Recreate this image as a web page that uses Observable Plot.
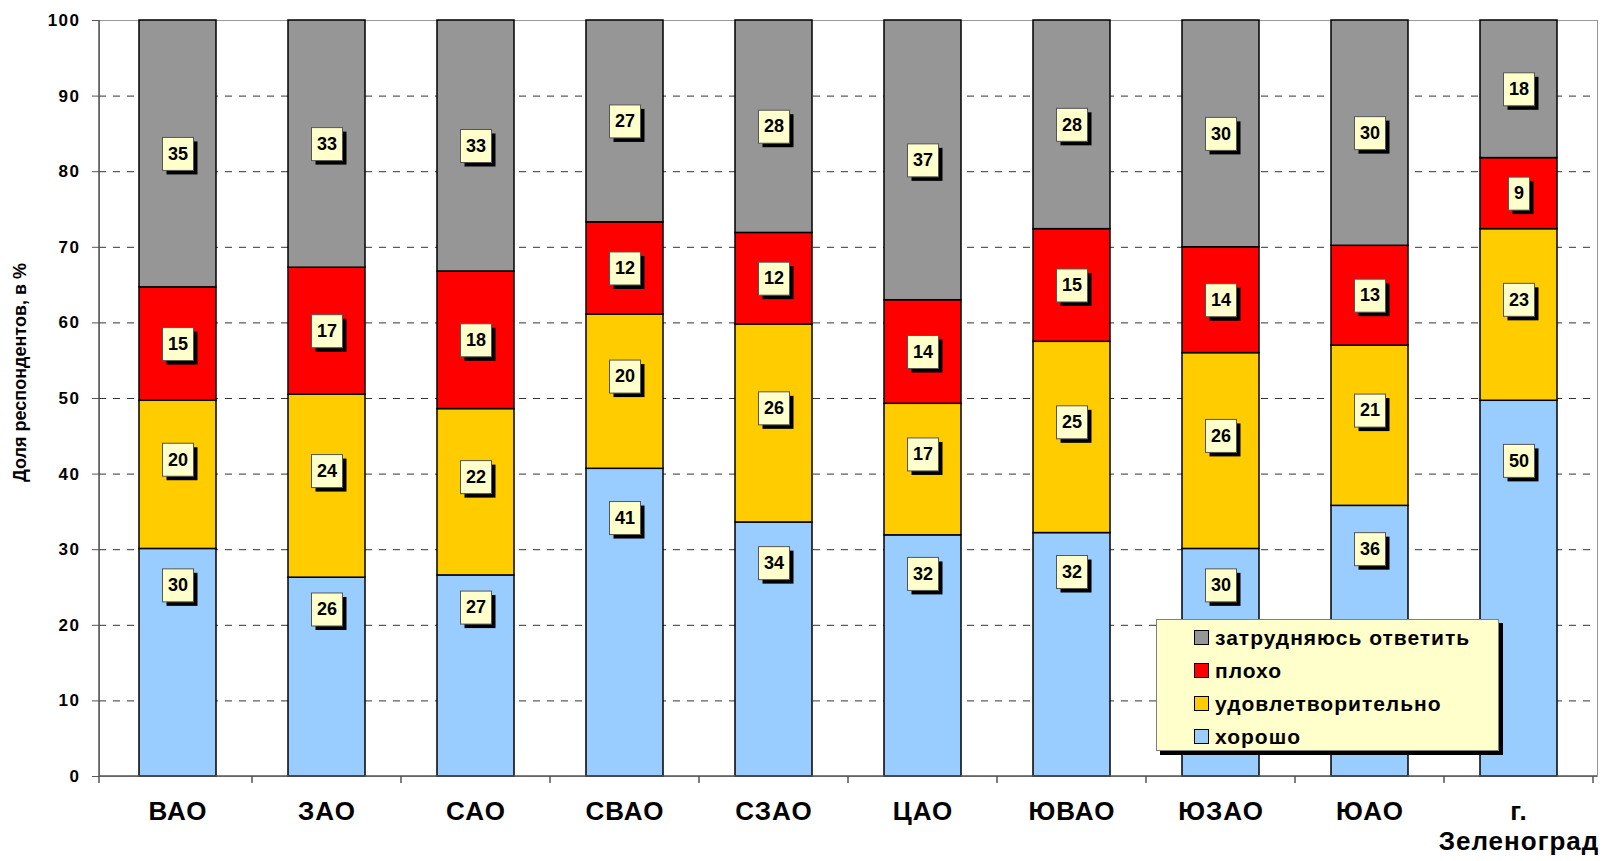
<!DOCTYPE html>
<html><head><meta charset="utf-8">
<script src="https://cdn.jsdelivr.net/npm/d3@7"></script>
<script src="https://cdn.jsdelivr.net/npm/@observablehq/plot@0.6"></script>
<style>
body{margin:0;background:#fff;font-family:"Liberation Sans",Arial,sans-serif;}
#wrap{position:relative;width:1607px;height:861px;overflow:hidden;}
#legend{position:absolute;left:1156px;top:619px;width:343px;height:132px;background:#FFFFCC;border:1px solid #808080;box-shadow:4px 4px 0 #000;box-sizing:border-box;padding-top:1px;}
.item{display:flex;align-items:center;height:33px;padding-left:37px;font-weight:bold;font-size:21px;letter-spacing:1px;color:#000;}
.sw{width:13px;height:13px;border:1.5px solid #000;margin-right:6px;flex:none;}
[aria-label="x-axis tick label"] text{letter-spacing:1px;}
[aria-label="y-axis tick label"] text{letter-spacing:1.5px;}
</style>
</head><body>
<div id="wrap"><div id="chart"></div><div id="legend"></div></div>
<script>
const districts = ["ВАО","ЗАО","САО","СВАО","СЗАО","ЦАО","ЮВАО","ЮЗАО","ЮАО","г.\nЗеленоград"];
const series = ["хорошо","удовлетворительно","плохо","затрудняюсь ответить"];
const colors = ["#99CCFF","#FFCC00","#FF0000","#969696"];
const good = [30.1,26.3,26.6,40.7,33.6,31.9,32.2,30.1,35.8,49.7];
const fair = [19.6,24.2,22.0,20.4,26.2,17.4,25.3,25.9,21.2,22.7];
const bad  = [15.0,16.8,18.2,12.2,12.1,13.7,14.9,14.0,13.2,9.4];
const hard = [35.3,32.7,33.2,26.7,28.1,37.0,27.6,30.0,29.8,18.2];
const yTicks = [0,10,20,30,40,50,60,70,80,90,100];
const yTitle = "Доля респондентов, в %";

const seriesValues = [good, fair, bad, hard];
const table = [];
districts.forEach((d, i) => {
  let base = 0;
  series.forEach((s, k) => {
    const v = seriesValues[k][i];
    const y1 = base, y2 = base + v;
    let ly = (y1 + y2) / 2;
    if (k === 0) ly = y2 * 0.84;
    else if (k === 1) ly = (y1 + y2) / 2 + 2;
    table.push({district: d, series: s, value: v, y1, y2, labelY: ly, label: String(Math.round(v))});
    base = y2;
  });
});

const NS = "http://www.w3.org/2000/svg";
function boxRender(index, scales, values, dims, context, next) {
  const g = next(index, scales, values, dims, context);
  const texts = Array.from(g.querySelectorAll("text"));
  texts.forEach((t, k) => {
    const i = index[k];
    const x = values.x[i], y = values.y[i];
    const n = t.textContent.length;
    const w = n * 10 + 11, h = 33;
    const sh = document.createElementNS(NS, "rect");
    sh.setAttribute("x", x - w / 2 + 4); sh.setAttribute("y", y - h / 2 + 4);
    sh.setAttribute("width", w); sh.setAttribute("height", h); sh.setAttribute("fill", "#000");
    const bx = document.createElementNS(NS, "rect");
    bx.setAttribute("x", x - w / 2); bx.setAttribute("y", y - h / 2);
    bx.setAttribute("width", w); bx.setAttribute("height", h);
    bx.setAttribute("fill", "#FFFFCC"); bx.setAttribute("stroke", "#555"); bx.setAttribute("stroke-width", 1);
    g.insertBefore(sh, t); g.insertBefore(bx, t);
  });
  return g;
}

function axesLines(index, scales, values, dims) {
  const {width, height, marginLeft, marginRight, marginTop, marginBottom} = dims;
  const g = d3.create("svg:g");
  const bottom = height - marginBottom;
  const x = scales.x;
  const step = x.step ? x.step() : (width - marginLeft - marginRight) / districts.length;
  const bw = x.bandwidth ? x.bandwidth() : step * 0.52;
  const bounds = districts.map(d => x(d) - (step - bw) / 2);
  bounds.push(bounds[bounds.length - 1] + step);
  g.append("line").attr("x1", marginLeft).attr("x2", marginLeft).attr("y1", marginTop).attr("y2", bottom + 7).attr("stroke", "#555").attr("stroke-width", 1.5);
  g.append("line").attr("x1", marginLeft).attr("x2", width - marginRight).attr("y1", bottom).attr("y2", bottom).attr("stroke", "#555").attr("stroke-width", 1.5);
  bounds.slice(1).forEach(b => g.append("line").attr("x1", b).attr("x2", b).attr("y1", bottom).attr("y2", bottom + 7).attr("stroke", "#555").attr("stroke-width", 1.5));
  return g.node();
}

const chart = Plot.plot({
  width: 1607, height: 861,
  marginLeft: 99, marginRight: 10, marginTop: 20, marginBottom: 85,
  style: {fontFamily: "'Liberation Sans', Arial, sans-serif", background: "#fff", color: "#000"},
  x: {domain: districts, paddingInner: 0.48, paddingOuter: 0.24, label: null},
  y: {domain: [0, 100], label: null},
  color: {domain: series, range: colors},
  marks: [
    Plot.frame({stroke: "#999"}),
    Plot.ruleY(yTicks.filter(t => t > 0 && t < 100), {stroke: "#333", strokeDasharray: "7,7"}),
    Plot.barY(table, {x: "district", y1: "y1", y2: "y2", fill: "series", stroke: "#000", strokeWidth: 1.5}),
    Plot.text(table, {x: "district", y: "labelY", text: "label", fontSize: 18, fontWeight: "bold", fill: "#000", render: boxRender}),
    Plot.axisY({ticks: yTicks, tickSize: 7, tickPadding: 12, fontSize: 17, fontWeight: "bold", stroke: "#555", label: null}),
    Plot.axisX({tickSize: 0, tickPadding: 22, fontSize: 26, fontWeight: "bold", lineHeight: 1.15, label: null}),
    Plot.text([yTitle], {text: d => d, frameAnchor: "left", textAnchor: "middle", dx: -79, dy: -26, rotate: -90, fontSize: 18, fontWeight: "bold", fill: "#000"}),
    axesLines
  ]
});
document.getElementById("chart").appendChild(chart);

const legend = document.getElementById("legend");
[...series].reverse().forEach(s => {
  const it = document.createElement("div"); it.className = "item";
  const sw = document.createElement("span"); sw.className = "sw";
  sw.style.background = colors[series.indexOf(s)];
  it.appendChild(sw); it.appendChild(document.createTextNode(s));
  legend.appendChild(it);
});
</script>
</body></html>
